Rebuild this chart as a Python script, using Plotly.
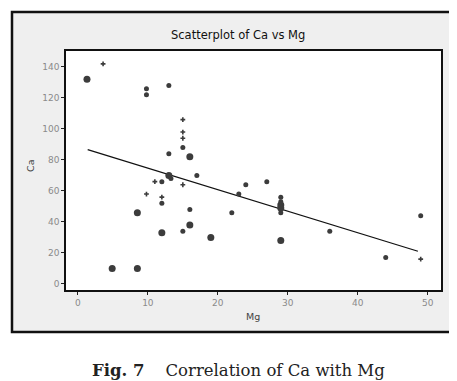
import plotly.graph_objects as go

# Data (Mg on x, Ca on y)
big_mg = [1.3, 16, 8.5, 16, 12, 19, 4.9, 8.5, 29, 29, 29, 13]
big_ca = [132, 82, 46, 38, 33, 30, 10, 10, 28, 51, 49, 70]

med_mg = [9.8, 9.8, 13, 15, 13, 12, 13.3, 17, 24, 27, 12, 16, 15, 22, 23, 29, 29, 29, 36, 44, 49]
med_ca = [126, 122, 128, 88, 84, 66, 68, 70, 64, 66, 52, 48, 34, 46, 58, 56, 53, 46, 34, 17, 44]

small_mg = [3.6, 15, 15, 15, 11, 15, 9.8, 12, 49]
small_ca = [142, 106, 98, 94, 66, 64, 58, 56, 16]

fit_mg = [1.4, 48.6]
fit_ca = [86.6, 21.1]

x_ticks = [0, 10, 20, 30, 40, 50]
y_ticks = [0, 20, 40, 60, 80, 100, 120, 140]

W, H = 457, 381
L, R, T, B = 58, 433, 43, 282

def px(x):
    return (x - L) / (R - L)

def py(y):
    return (B - y) / (B - T)

mc = "#3c3c3c"
fig = go.Figure()
fig.add_trace(go.Scatter(x=fit_mg, y=fit_ca, mode="lines",
                         line=dict(color="#111", width=1.3), hoverinfo="skip"))
fig.add_trace(go.Scatter(x=big_mg, y=big_ca, mode="markers",
                         marker=dict(symbol="circle", size=7, color=mc)))
fig.add_trace(go.Scatter(x=med_mg, y=med_ca, mode="markers",
                         marker=dict(symbol="circle", size=5, color=mc)))
fig.add_trace(go.Scatter(x=small_mg, y=small_ca, mode="markers",
                         marker=dict(symbol="cross", size=4, color=mc)))

axis_common = dict(showgrid=False, zeroline=False, showline=True, linecolor="#111",
                   linewidth=1.5, mirror=True, ticks="outside", ticklen=3,
                   tickcolor="#222", tickwidth=1,
                   tickfont=dict(family="DejaVu Sans", size=9, color="#8a8a8a"))

fig.update_layout(
    width=W, height=H,
    margin=dict(l=L, r=W - R, t=T, b=H - B),
    paper_bgcolor="white", plot_bgcolor="white",
    showlegend=False,
    xaxis=dict(range=[-1.7, 51.9], tickvals=x_ticks, **axis_common),
    yaxis=dict(range=[-3.9, 150.3], tickvals=y_ticks, **axis_common),
    shapes=[dict(type="rect", xref="paper", yref="paper", layer="below",
                 x0=px(4), x1=px(454), y0=py(324), y1=py(4),
                 fillcolor="#efefef", line=dict(color="#111", width=2.5)),
            dict(type="rect", xref="paper", yref="paper", layer="below",
                 x0=0, x1=1, y0=0, y1=1,
                 fillcolor="white", line=dict(width=0))],
    annotations=[
        dict(text="Scatterplot of Ca vs Mg", xref="paper", yref="paper",
             x=px(230), y=py(27), showarrow=False, xanchor="center", yanchor="middle",
             font=dict(family="DejaVu Sans", size=11.5, color="#111")),
        dict(text="Mg", xref="paper", yref="paper", x=px(245), y=py(308),
             showarrow=False, xanchor="center", yanchor="middle",
             font=dict(family="DejaVu Sans", size=9.5, color="#444")),
        dict(text="Ca", xref="paper", yref="paper", x=px(22), y=py(158),
             showarrow=False, textangle=-90, xanchor="center", yanchor="middle",
             font=dict(family="DejaVu Sans", size=9.5, color="#444")),
        dict(text="<b>Fig. 7</b>&nbsp;&nbsp;&nbsp;&nbsp;Correlation of Ca with Mg",
             xref="paper", yref="paper", x=px(230), y=py(362), showarrow=False,
             xanchor="center", yanchor="middle",
             font=dict(family="DejaVu Serif", size=16.5, color="#222")),
    ],
)

fig.write_html("out.html")
